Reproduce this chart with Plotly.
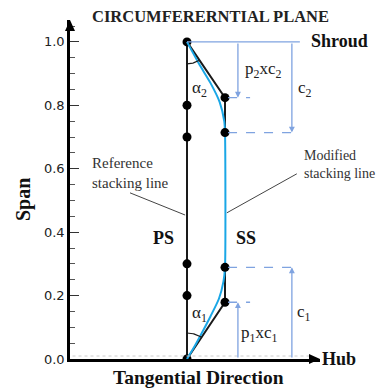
import math
import plotly.graph_objects as go

# ---------------- data ----------------
ref_x = 0.0                      # reference stacking line (tangential position)
mod_x = 1.0                      # shifted part of modified stacking line
ref_span = [0.0, 0.2, 0.3, 0.7, 0.8, 1.0]
mod_span = [0.179, 0.289, 0.714, 0.824]
p1c1, c1 = 0.179, 0.289
p2c2, c2 = 0.824, 0.714
# modified (blue) stacking line
curve_x = [0.0, 0.2, 0.39, 0.62, 0.84, 0.96, 1.0, 1.0, 0.98, 0.86, 0.62, 0.32, 0.0]
curve_y = [0.0, 0.04, 0.082, 0.135, 0.19, 0.245, 0.289, 0.714, 0.75, 0.81, 0.87, 0.93, 1.0]
y_ticks = [0.0, 0.2, 0.4, 0.6, 0.8, 1.0]

# ---------------- layout constants ----------------
W, H = 379, 389
L, R, T, B = 70, 59, 20, 30
XR = [-3.079, 3.5]
YR = [0.0, 1.069]
pw, ph = W - L - R, H - T - B
px_x = pw / (XR[1] - XR[0])   # px per x unit
px_y = ph / (YR[1] - YR[0])   # px per y unit

def PX(px):   # figure pixel x -> paper x
    return (px - L) / pw
def PY(py):   # figure pixel y -> paper y
    return (H - B - py) / ph

SERIF = "Liberation Serif"
BLUE = "#1aa7e6"
DIM = "#7fa3e0"
DARK = "#1a1a1a"

fig = go.Figure()

# reference stacking line
fig.add_trace(go.Scatter(x=[ref_x] * len(ref_span), y=ref_span, mode="lines+markers",
                         line=dict(color=DARK, width=2), marker=dict(color="black", size=9),
                         hoverinfo="skip", showlegend=False))
# black straight segments of modified line
fig.add_trace(go.Scatter(x=[ref_x, mod_x, mod_x, None, mod_x, mod_x, ref_x],
                         y=[1.0, p2c2, c2, None, c1, p1c1, 0.0], mode="lines",
                         line=dict(color=DARK, width=2), hoverinfo="skip", showlegend=False))
# blue curve
fig.add_trace(go.Scatter(x=curve_x, y=curve_y, mode="lines",
                         line=dict(color=BLUE, width=2, shape="spline", smoothing=0.6),
                         hoverinfo="skip", showlegend=False))
# modified line points
fig.add_trace(go.Scatter(x=[mod_x] * len(mod_span), y=mod_span, mode="markers",
                         marker=dict(color="black", size=9), hoverinfo="skip", showlegend=False))

# angle arcs
def arc(cx, cy, r_px, a0, a1, up):
    xs, ys = [], []
    for i in range(21):
        a = math.radians(a0 + (a1 - a0) * i / 20)
        xs.append(cx + r_px * math.sin(a) / px_x)
        ys.append(cy + (1 if up else -1) * r_px * math.cos(a) / px_y)
    return xs, ys

ang_top = math.degrees(math.atan2((mod_x - ref_x) * px_x, (1.0 - p2c2) * px_y))
ang_bot = math.degrees(math.atan2((mod_x - ref_x) * px_x, p1c1 * px_y))
ax1, ay1 = arc(ref_x, 1.0, 22, 0, ang_top, False)
ax2, ay2 = arc(ref_x, 0.0, 26, 0, ang_bot, True)
fig.add_trace(go.Scatter(x=ax1 + [None] + ax2, y=ay1 + [None] + ay2, mode="lines",
                         line=dict(color=DARK, width=1.2), hoverinfo="skip", showlegend=False))

# dimension lines
x_p, x_c = 1.34, 2.76
shapes = [
    dict(type="line", xref="x", yref="y", x0=ref_x, x1=2.97, y0=1.0, y1=1.0, line=dict(color=DIM, width=1.3)),
    dict(type="line", xref="x", yref="y", x0=1.08, x1=1.66, y0=p2c2, y1=p2c2, line=dict(color=DIM, width=1.3, dash="dash")),
    dict(type="line", xref="x", yref="y", x0=1.08, x1=2.92, y0=c2, y1=c2, line=dict(color=DIM, width=1.3, dash="dash")),
    dict(type="line", xref="x", yref="y", x0=1.08, x1=2.92, y0=c1, y1=c1, line=dict(color=DIM, width=1.3, dash="dash")),
    dict(type="line", xref="x", yref="y", x0=1.08, x1=1.66, y0=p1c1, y1=p1c1, line=dict(color=DIM, width=1.3, dash="dash")),
    # leader lines
    dict(type="line", xref="x", yref="y", x0=-1.5, y0=0.524, x1=-0.05, y1=0.454, line=dict(color="#444", width=1)),
    dict(type="line", xref="x", yref="y", x0=2.89, y0=0.584, x1=1.05, y1=0.461, line=dict(color="#444", width=1)),
    # faint minor ticks along the x axis
    dict(type="line", xref="paper", yref="paper", x0=0.01, x1=0.97, y0=3/ph, y1=3/ph,
         line=dict(color="#cccccc", width=1, dash="dot")),
    # axis arrowheads
    dict(type="path", xref="paper", yref="paper",
         path=f"M 0 1 L {-5/pw} {1-11/ph} L {5/pw} {1-11/ph} Z", fillcolor="black", line=dict(width=0)),
    dict(type="path", xref="paper", yref="paper",
         path=f"M 1 0 L {1-11/pw} {5/ph} L {1-11/pw} {-5/ph} Z", fillcolor="black", line=dict(width=0)),
]

ann = []
def dim_arrow(x, y_from, y_to):
    ann.append(dict(x=x, y=y_to, ax=x, ay=y_from, xref="x", yref="y", axref="x", ayref="y",
                    showarrow=True, arrowhead=2, arrowsize=0.9, arrowwidth=1.3, arrowcolor=DIM, text=""))
dim_arrow(x_p, 1.0, p2c2)
dim_arrow(x_c, 1.0, c2)
dim_arrow(x_p, 0.0, p1c1)
dim_arrow(x_c, 0.0, c1)

def txt(x, y, s, size=15, bold=False, xanchor="center", align="center", xref="x", yref="y", color="#222", angle=0):
    ann.append(dict(x=x, y=y, xref=xref, yref=yref, text=f"<b>{s}</b>" if bold else s,
                    showarrow=False, xanchor=xanchor, yanchor="middle", align=align, textangle=angle,
                    font=dict(family=SERIF, size=size, color=color)))

txt(2.0, 0.91, "p<sub>2</sub>xc<sub>2</sub>", 17)
txt(3.1, 0.852, "c<sub>2</sub>", 17)
txt(0.34, 0.852, "α<sub>2</sub>", 17)
txt(0.32, 0.142, "α<sub>1</sub>", 17)
txt(1.92, 0.078, "p<sub>1</sub>xc<sub>1</sub>", 17)
txt(3.08, 0.145, "c<sub>1</sub>", 17)
txt(-0.63, 0.382, "PS", 18, bold=True, color="#111")
txt(1.55, 0.382, "SS", 18, bold=True, color="#111")
txt(-2.55, 0.587, "Reference<br>stacking line", 15, xanchor="left", align="left", color="#333")
txt(PX(302), PY(164), "Modified<br>stacking line", 14, xanchor="left", align="left", color="#333",
    xref="paper", yref="paper")
txt(PX(339), PY(41), "Shroud", 18, bold=True, color="#111", xref="paper", yref="paper")
txt(PX(339), PY(359), "Hub", 18, bold=True, color="#111", xref="paper", yref="paper")
txt(PX(210), PY(17), "CIRCUMFERERNTIAL PLANE", 16.5, bold=True, xref="paper", yref="paper", color="#222")
txt(PX(198), PY(377), "Tangential Direction", 19.5, bold=True, xref="paper", yref="paper", color="#111")
txt(PX(24), PY(200), "Span", 20, bold=True, xref="paper", yref="paper", color="#111", angle=-90)

fig.update_layout(
    width=W, height=H, margin=dict(l=L, r=R, t=T, b=B),
    paper_bgcolor="white", plot_bgcolor="white",
    shapes=shapes, annotations=ann,
    xaxis=dict(range=XR, showgrid=False, zeroline=False, showline=True, linecolor="black", linewidth=2.5,
               showticklabels=False, ticks="", fixedrange=True),
    yaxis=dict(range=YR, showgrid=False, zeroline=False, showline=True, linecolor="black", linewidth=2.5,
               tickvals=y_ticks, ticktext=[f"{v:.1f}" for v in y_ticks], ticks="inside", ticklen=9, tickwidth=1.3,
               tickcolor="#333", minor=dict(dtick=0.05, tick0=0, ticks="inside", ticklen=5, tickcolor="#555", tickwidth=1),
               tickfont=dict(family="DejaVu Sans", size=13, color="#222"), fixedrange=True),
)

fig.write_html("out.html")
